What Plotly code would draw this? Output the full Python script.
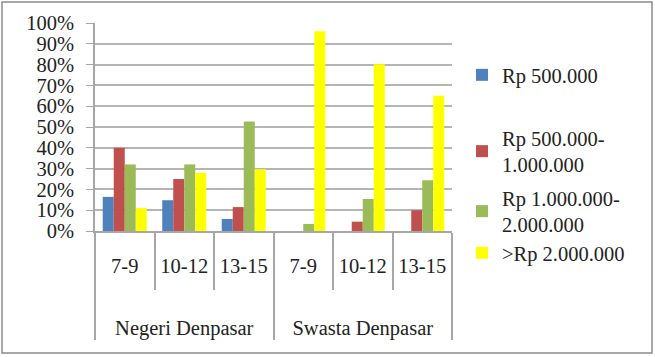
import plotly.graph_objects as go

groups = ["Negeri Denpasar"] * 3 + ["Swasta Denpasar"] * 3
ages = ["7-9", "10-12", "13-15", "7-9", "10-12", "13-15"]

series_names = ["Rp 500.000", "Rp 500.000-<br>1.000.000", "Rp 1.000.000-<br>2.000.000", ">Rp 2.000.000"]
s1 = [0.164, 0.148, 0.058, 0.0, 0.0, 0.0]
s2 = [0.40, 0.25, 0.115, 0.0, 0.045, 0.10]
s3 = [0.32, 0.32, 0.526, 0.034, 0.154, 0.244]
s4 = [0.11, 0.28, 0.297, 0.96, 0.802, 0.65]
colors = ["#4F81BD", "#C0504D", "#9BBB59", "#FFFF00"]
yticks = [i / 10 for i in range(11)]

W, H = 655, 357
L, R, T, B = 95, 452, 23, 231
pw, ph = R - L, B - T

def px_x(x):
    return (x - L) / pw

def px_y(y):
    return (B - y) / ph

# leading line breaks push the group label row down, as in the reference
xg = ["<br><br>" + g for g in groups]

fig = go.Figure()
legend_tops = [55, 118, 178, 233]
for i, (name, vals) in enumerate(zip(series_names, [s1, s2, s3, s4])):
    lg = "legend" if i == 0 else f"legend{i+1}"
    fig.add_trace(go.Bar(x=[xg, ages], y=vals, name=name, marker_color=colors[i],
                         marker_line_width=0, legend=lg))

font = dict(family="Times New Roman, Liberation Serif, serif", size=20.5, color="#222222")
layout_legends = {}
for i, top in enumerate(legend_tops):
    key = "legend" if i == 0 else f"legend{i+1}"
    layout_legends[key] = dict(x=px_x(462), y=px_y(top), xanchor="left", yanchor="top",
                               bgcolor="rgba(0,0,0,0)", font=font, itemwidth=30,
                               traceorder="normal")

fig.update_layout(
    width=W, height=H,
    margin=dict(l=L, r=W - R, t=T, b=H - B, pad=0, autoexpand=False),
    paper_bgcolor="white", plot_bgcolor="white",
    barmode="group", bargap=0.26, bargroupgap=0,
    font=font,
    showlegend=True,
    **layout_legends,
    xaxis=dict(type="multicategory", showline=True, linecolor="#a6a6a6", linewidth=1.5,
               tickson="boundaries", ticks="outside", ticklen=57, tickcolor="#a6a6a6",
               tickwidth=1.5, showdividers=True, dividercolor="#a6a6a6", dividerwidth=1.5,
               tickfont=font, showgrid=False, ticklabelstandoff=16),
    yaxis=dict(range=[0, 1.0], tickvals=yticks, tickformat=".0%", showgrid=True,
               gridcolor="#b5b5b5", gridwidth=1.5, showline=True, linecolor="#a6a6a6",
               linewidth=1.5, ticks="outside", ticklen=7, tickcolor="#a6a6a6",
               ticklabelstandoff=8, tickfont=font, zeroline=False),
    shapes=[dict(type="rect", xref="paper", yref="paper",
                 x0=px_x(2), x1=px_x(652), y0=px_y(353), y1=px_y(2),
                 line=dict(color="#8c8c8c", width=1.5), fillcolor="rgba(0,0,0,0)", layer="below")],
)

fig.write_html("out.html", config={"displayModeBar": False},
               post_script="document.body.style.margin='0';")
